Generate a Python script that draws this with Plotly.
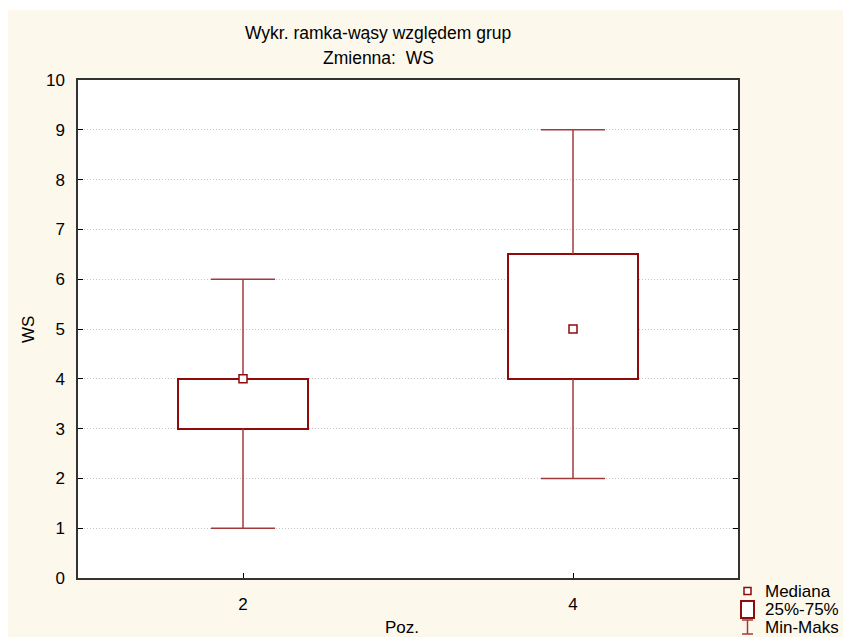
import plotly.graph_objects as go

categories = ["2", "4"]
mins = [1, 2]
q1s = [3, 4]
medians = [4, 5]
q3s = [4, 6.5]
maxs = [6, 9]
y_ticks = list(range(0, 11))

BOX_C = "#8f0a0a"
WH_C = "#a33a3a"
CREAM = "#fdf8ec"
FONT = "Arial, Liberation Sans"
W = 843; H = 637
L, R, T, B = 78, 105, 80, 59
PW = W - L - R; PH = H - T - B

box_w = 0.394
cap_hw = 0.097

fig = go.Figure()
xs = list(range(len(categories)))

# whiskers
for i, x in enumerate(xs):
    fig.add_trace(go.Scatter(x=[x, x, None, x, x], y=[maxs[i], q3s[i], None, q1s[i], mins[i]],
                             mode="lines", line=dict(color=WH_C, width=1.5), showlegend=False, hoverinfo="skip"))
    fig.add_trace(go.Scatter(x=[x - cap_hw, x + cap_hw, None, x - cap_hw, x + cap_hw],
                             y=[maxs[i], maxs[i], None, mins[i], mins[i]],
                             mode="lines", line=dict(color=WH_C, width=1.5), showlegend=False, hoverinfo="skip"))

# boxes
fig.add_trace(go.Bar(x=xs, base=q1s, y=[q3s[i] - q1s[i] for i in range(len(xs))], width=box_w,
                     marker=dict(color="white", line=dict(color=BOX_C, width=2)), showlegend=False, hoverinfo="skip"))

# medians
fig.add_trace(go.Scatter(x=xs, y=medians, mode="markers",
                         marker=dict(symbol="square", size=8, color="white", line=dict(color=BOX_C, width=1.5)),
                         showlegend=False, hoverinfo="skip"))

def px2x(p):
    return (p - L) / PW

def py2y(p):
    return (H - B - p) / PH

shapes = [
    dict(type="rect", xref="paper", yref="paper", x0=px2x(0), x1=px2x(W), y0=py2y(10), y1=py2y(0),
         fillcolor="white", line=dict(width=0), layer="above"),
    dict(type="rect", xref="paper", yref="paper", x0=px2x(0), x1=px2x(8), y0=py2y(H), y1=py2y(0),
         fillcolor="white", line=dict(width=0), layer="above"),
    # legend glyphs
    dict(type="rect", xref="paper", yref="paper", x0=px2x(744), x1=px2x(751), y0=py2y(594.5), y1=py2y(587.5),
         fillcolor="white", line=dict(color=BOX_C, width=1.5)),
    dict(type="rect", xref="paper", yref="paper", x0=px2x(741), x1=px2x(754), y0=py2y(618), y1=py2y(601),
         fillcolor="white", line=dict(color=BOX_C, width=2)),
    dict(type="line", xref="paper", yref="paper", x0=px2x(747.5), x1=px2x(747.5), y0=py2y(634), y1=py2y(620),
         line=dict(color=WH_C, width=1.5)),
    dict(type="line", xref="paper", yref="paper", x0=px2x(742), x1=px2x(753), y0=py2y(620), y1=py2y(620),
         line=dict(color=WH_C, width=1.5)),
    dict(type="line", xref="paper", yref="paper", x0=px2x(742), x1=px2x(753), y0=py2y(634), y1=py2y(634),
         line=dict(color=WH_C, width=1.5)),
]

legend_items = [("Mediana", 591), ("25%-75%", 609), ("Min-Maks", 627)]
annotations = []
for txt, py in legend_items:
    annotations.append(dict(text=txt, xref="paper", yref="paper", x=px2x(763), y=py2y(py),
                            xanchor="left", yanchor="middle", showarrow=False, height=16, valign="middle",
                            font=dict(family=FONT, size=17, color="black")))
annotations.append(dict(text="Wykr. ramka-wąsy względem grup", xref="paper", yref="paper",
                        x=px2x(378), y=py2y(33), xanchor="center", yanchor="middle", showarrow=False,
                        font=dict(family=FONT, size=17.5, color="black")))
annotations.append(dict(text="Zmienna:  WS", xref="paper", yref="paper",
                        x=px2x(378), y=py2y(58), xanchor="center", yanchor="middle", showarrow=False,
                        font=dict(family=FONT, size=17.5, color="black")))
annotations.append(dict(text="Poz.", xref="paper", yref="paper",
                        x=px2x(402), y=py2y(627), xanchor="center", yanchor="middle", showarrow=False,
                        font=dict(family=FONT, size=17, color="black")))
annotations.append(dict(text="WS", xref="paper", yref="paper", textangle=-90,
                        x=px2x(28), y=py2y(330), xanchor="center", yanchor="middle", showarrow=False,
                        font=dict(family=FONT, size=17, color="black")))

fig.update_layout(
    width=W, height=H,
    margin=dict(l=L, r=R, t=T, b=B, pad=0),
    paper_bgcolor=CREAM, plot_bgcolor="white",
    font=dict(family=FONT, size=17, color="black"),
    shapes=shapes, annotations=annotations,
    showlegend=False, bargap=0,
    xaxis=dict(range=[-0.5, 1.5], tickvals=xs, ticktext=categories, ticks="inside", ticklen=5,
               tickcolor="black", showline=True, linecolor="#333", linewidth=1.5, mirror=True,
               showgrid=False, zeroline=False, fixedrange=True, ticklabelstandoff=10,
               tickfont=dict(size=17)),
    yaxis=dict(range=[0, 10], tickvals=y_ticks, ticks="inside", ticklen=5, tickcolor="black",
               showline=True, linecolor="#333", linewidth=1.5, mirror="ticks",
               showgrid=True, gridcolor="#c4c4c4", griddash="1px,2px", gridwidth=1,
               zeroline=False, fixedrange=True, ticklabelstandoff=8,
               tickfont=dict(size=17)),
)

fig.write_html("out.html")
